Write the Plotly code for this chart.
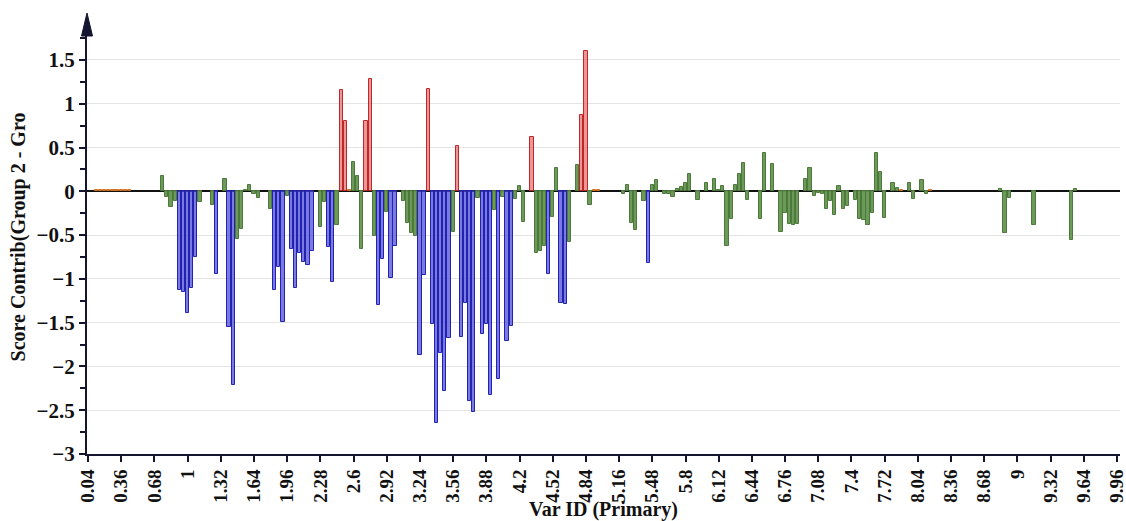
import plotly.graph_objects as go

# ---------------- data ----------------
var_ids = [round(0.04 * (k + 1), 2) for k in range(249)]

scores = [
    0, 0, 0.01, 0.01, 0.01, 0.01, 0.01, 0.01, 0.01, 0.01,
    0.01, 0, 0, 0, 0, 0, 0, 0, 0.17, -0.06,
    -0.175, -0.11, -1.125, -1.145, -1.39, -1.11, -0.75, -0.12, 0, 0,
    -0.16, -0.94, 0, 0.14, -1.55, -2.21, -0.54, -0.43, 0.02, 0.07,
    -0.03, -0.08, 0, 0, -0.2, -1.125, -0.87, -1.49, -0.05, -0.66,
    -1.11, -0.71, -0.81, -0.84, -0.68, 0, -0.41, -0.12, -0.64, -1.04,
    -0.38, 1.155, 0.80, 0.01, 0.34, 0.175, -0.66, 0.80, 1.277, -0.51,
    -1.30, -0.77, -0.24, -0.99, -0.63, 0, -0.11, -0.365, -0.48, -0.51,
    -1.87, -0.96, 1.17, -1.52, -2.65, -1.85, -2.285, -1.68, -0.47, 0.515,
    -1.66, -1.27, -2.40, -2.52, -0.08, -1.63, -1.51, -2.33, -0.21, -2.14,
    -0.07, -1.71, -1.54, -0.09, 0.06, -0.35, 0, 0.62, -0.70, -0.68,
    -0.62, -0.95, -0.29, 0.27, -1.27, -1.285, -0.58, 0, 0.30, 0.87,
    1.60, -0.16, 0.015, 0.01, 0, 0, 0, 0, 0, -0.03,
    0.075, -0.36, -0.445, 0, -0.11, -0.82, 0.07, 0.13, 0, -0.03,
    -0.03, -0.065, 0.03, 0.05, 0.09, 0.20, 0, -0.10, 0, 0.09,
    0, 0.14, 0.01, 0.06, -0.62, -0.32, 0.07, 0.20, 0.32, -0.10,
    0, 0, -0.32, 0.44, 0, 0.31, 0, -0.46, -0.245, -0.37,
    -0.38, -0.37, 0, 0.14, 0.27, -0.05, -0.02, -0.03, -0.20, -0.11,
    -0.27, 0.06, -0.20, -0.17, 0, -0.095, -0.32, -0.33, -0.39, -0.25,
    0.44, 0.22, -0.30, 0, 0.10, 0.04, 0.02, 0, 0.10, -0.09,
    0, 0.13, -0.03, 0.015, 0, 0, 0, 0, 0, 0,
    0, 0, 0, 0, 0, 0, 0, 0, 0, 0,
    0.03, -0.475, -0.08, 0, 0, 0, 0, 0, -0.385, 0,
    0, 0, 0, 0, 0, 0, 0, -0.56, 0.03, 0,
    0, 0, 0, 0, 0, 0, 0, 0, 0,
]

# group code per bar: r = high positive, b = high negative, g = normal, o = minor, k = none
groups = list(
    "kkoooooooo" "okkkkkkkgg" "ggbbbbbgkk" "gbkgbbgggg" "ggkkgbbbgb"
    "bbbbbkggbb" "grrogggrrg" "bbgbbkgggg" "bbrbbbbbgr" "bbbbgbbbgb"
    "gbbggg" "krgg" "gbggbbgkgr" "rgookkkkkg" "gggkgbggkg"
    "ggggggkgkg" "kggggggggg" "kkggkgkggg" "ggkggggggg" "ggggkggggg"
    "gggkggokgg" "kggokkkkkk" "kkkkkkkkkk" "gggkkkkkgk" "kkkkkkkggk"
    "kkkkkkkkk"
)

x_tick_labels = ["0.04", "0.36", "0.68", "1", "1.32", "1.64", "1.96", "2.28", "2.6",
                 "2.92", "3.24", "3.56", "3.88", "4.2", "4.52", "4.84", "5.16", "5.48",
                 "5.8", "6.12", "6.44", "6.76", "7.08", "7.4", "7.72", "8.04", "8.36",
                 "8.68", "9", "9.32", "9.64", "9.96"]

# ---------------- styles ----------------
fill = {"r": "rgba(225,95,95,0.65)", "b": "rgba(70,70,215,0.72)",
        "g": "rgba(100,150,80,0.95)", "o": "rgba(230,130,40,1)", "k": "rgba(0,0,0,0)"}
edge = {"r": "#c02828", "b": "#2222b0", "g": "#4d7a3c", "o": "#d07020", "k": "rgba(0,0,0,0)"}

font_fam = "Liberation Serif"
axis_col = "#151530"

fig = go.Figure(go.Bar(
    x=var_ids, y=scores, width=0.031,
    marker=dict(color=[fill[c] for c in groups],
                line=dict(color=[edge[c] for c in groups], width=1)),
))

W, H = 1126, 521
ml, mr, mt, mb = 87, 6, 20, 67
pw, ph = W - ml - mr, H - mt - mb

fig.update_layout(
    width=W, height=H,
    margin=dict(l=ml, r=mr, t=mt, b=mb, autoexpand=False),
    plot_bgcolor="white", paper_bgcolor="white",
    showlegend=False, bargap=0,
    font=dict(family=font_fam, size=20, color="#111", weight="bold"),
    xaxis=dict(
        range=[0.0304, 9.9886], automargin=False,
        tickvals=[float(t) for t in x_tick_labels], ticktext=x_tick_labels,
        tickangle=-90, ticks="outside", ticklen=6, tickwidth=2, tickcolor=axis_col,
        ticklabeloverflow="allow",
        showline=True, linecolor=axis_col, linewidth=2,
        showgrid=False, zeroline=False,
        tickfont=dict(family=font_fam, size=19, weight="bold"),
        title=dict(text="Var ID (Primary)", standoff=2,
                   font=dict(family=font_fam, size=20, weight="bold")),
    ),
    yaxis=dict(
        range=[-3, 1.956], automargin=False,
        tick0=0, dtick=0.5,
        ticks="outside", ticklen=6, tickwidth=2, tickcolor=axis_col,
        minor=dict(dtick=0.25, ticklen=5, tickwidth=2, tickcolor=axis_col, ticks="outside", showgrid=False),
        showline=True, linecolor=axis_col, linewidth=2,
        showgrid=True, gridcolor="#e4e4e4", gridwidth=1,
        zeroline=True, zerolinecolor="#111111", zerolinewidth=2,
        tickfont=dict(family=font_fam, size=21, weight="bold"),
        title=dict(text="Score Contrib(Group 2 - Gro", standoff=6,
                   font=dict(family=font_fam, size=20, weight="bold")),
    ),
)

# arrow head at the top of the y axis
ax_half = 5.5 / pw
y_tip = 1 + 7 / ph
y_base = 1 - 16 / ph
fig.add_shape(type="path", xref="paper", yref="paper",
              path=f"M {-ax_half} {y_base} L 0 {y_tip} L {ax_half} {y_base} Z",
              fillcolor=axis_col, line=dict(color=axis_col, width=1), layer="above")

fig.write_html("out.html")
